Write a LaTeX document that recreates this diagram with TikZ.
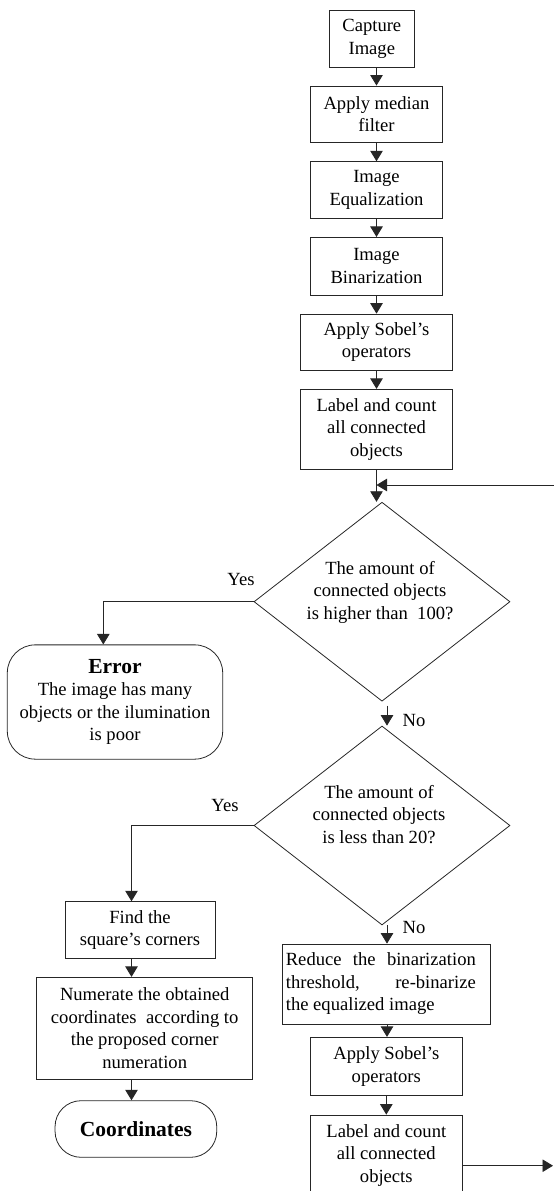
\documentclass[tikz,border=0pt]{standalone}
\usepackage{fontspec}
\setmainfont{Liberation Serif}
\usetikzlibrary{shapes.geometric,arrows.meta,calc}
\newcommand\myfs{\fontsize{18.6}{22.5}\selectfont}
\newcommand\mybf{\fontsize{21.5}{26}\selectfont\bfseries}
\begin{document}
\begin{tikzpicture}[x=1pt,y=-1pt,
  line/.style={draw=black!85,line width=0.8pt},
  arr/.style={line,-{Triangle[length=10.5pt,width=12.5pt]}},
  box/.style={line,rectangle,inner sep=0pt,align=center,font=\myfs,text=black},
  term/.style={box,rounded corners=28pt},
  dia/.style={line,diamond,inner sep=0pt,minimum width=256pt,minimum height=199pt},
  lbl/.style={inner sep=0pt,font=\myfs,align=center}
]
\useasboundingbox (0,0) rectangle (554,1191);

% main column
\node[box,minimum width=85pt,minimum height=56.6pt] (b1) at (371.8,39) {Capture\\Image};
\node[box,minimum width=132.4pt,minimum height=56.7pt] (b2) at (376.5,114.3) {Apply median\\filter};
\node[box,minimum width=132.4pt,minimum height=56.6pt] (b3) at (376.5,190) {Image\\Equalization};
\node[box,minimum width=132.4pt,minimum height=57.7pt] (b4) at (376.5,266.2) {Image\\Binarization};
\node[box,minimum width=151.6pt,minimum height=56.3pt] (b5) at (376.5,342.2) {Apply Sobel’s\\operators};
\node[box,minimum width=151.6pt,minimum height=80.4pt] (b6) at (376.5,429.5) {Label and count\\all connected\\objects};

\coordinate (merge) at (376.5,485);
\coordinate (loopR) at (554,485);

% decisions
\node[dia] (d1) at (382,601.7) {};
\node[lbl] (t1) at (380,592.2) {The amount of\\connected objects\\is higher than\ \ 100?};
\node[dia] (d2) at (382,825.5) {};
\node[lbl] (t2) at (379,814.5) {The amount of\\connected objects\\is less than 20?};

% error
\node[term,minimum width=215.4pt,minimum height=114.3pt] (err) at (115,702)
  {{\mybf Error}\\The image has many\\objects or the ilumination\\is poor};

% left branch
\node[box,minimum width=150pt,minimum height=56.6pt] (find) at (140,930) {Find the\\square’s corners};
\node[box,minimum width=216pt,minimum height=102pt] (num) at (144.7,1028.3)
  {Numerate the obtained\\coordinates\ \ according to\\the proposed corner\\numeration};
\node[term,rounded corners=26pt,minimum width=161.7pt,minimum height=56.6pt] (coord) at (135.9,1129) {\mybf Coordinates};

% right branch
\node[box,minimum width=207.7pt,minimum height=80pt,align=left] (red) at (386.2,984)
  {\makebox[190pt][s]{Reduce the binarization}\\\makebox[190pt][s]{threshold, \ \ \ re-binarize}\\the equalized image\hspace*{52pt}};
\node[box,minimum width=151.3pt,minimum height=58.4pt] (sob2) at (386.3,1066.5) {Apply Sobel’s\\operators};
\node[box,minimum width=151.3pt,minimum height=80.4pt] (lab2) at (386.3,1155.2) {Label and count\\all connected\\objects};
\coordinate (outR) at (553,1165.7);

% labels
\node[lbl] (yes1) at (241,579) {Yes};
\node[lbl] (yes2) at (225,805) {Yes};
\node[lbl] (no1) at (414,720.7) {No};
\node[lbl] (no2) at (414,927.7) {No};

% connectors main column
\draw[arr] (b1.south -| b2.north) -- (b2.north);
\draw[arr] (b2) -- (b3);
\draw[arr] (b3) -- (b4);
\draw[arr] (b4) -- (b5);
\draw[arr] (b5) -- (b6);
\draw[arr] (b6.south) -- (b6.south |- d1.north);
\draw[arr] (loopR) -- (merge);

% decision 1
\coordinate (ej) at (103.3,601.7);
\draw[arr] (d1.west) -- (ej) -- (ej |- err.north);
\draw[arr] ([xshift=5pt,yshift=-4pt]d1.south) -- ([xshift=5pt]d2.north);

% decision 2
\coordinate (fj) at (131.5,825.5);
\draw[arr] (d2.west) -- (fj) -- (fj |- find.north);
\draw[arr] ([xshift=5pt]d2.south) -- ([xshift=5pt]d2.south |- red.north);

% left branch
\draw[arr] (fj |- find.south) -- (fj |- num.north);
\draw[arr] (fj |- num.south) -- (fj |- coord.north);

% right branch
\draw[arr] ([xshift=5pt]d2.south |- red.south) -- ([xshift=5pt]d2.south |- sob2.north);
\draw[arr] (sob2) -- (lab2);
\draw[arr] (outR -| lab2.east) -- (outR);
\end{tikzpicture}
\end{document}
